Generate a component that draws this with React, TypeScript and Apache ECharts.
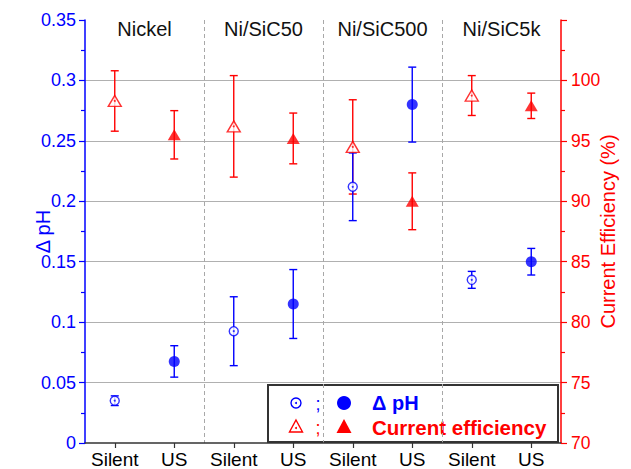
import { useEffect, useRef } from 'react';
import * as echarts from 'echarts';

// Process condition under each coating (x axis), and the coatings themselves (top labels)
const conditions = ['Silent', 'US', 'Silent', 'US', 'Silent', 'US', 'Silent', 'US'];
const coatings = ['Nickel', 'Ni/SiC50', 'Ni/SiC500', 'Ni/SiC5k'];

// Δ pH (left axis), mean and error per coating
const phSilent = [0.035, 0.0925, 0.212, 0.135];
const phSilentErr = [0.004, 0.0285, 0.028, 0.007];
const phUS = [0.0675, 0.115, 0.28, 0.15];
const phUSErr = [0.013, 0.0285, 0.031, 0.011];

// Current efficiency in % (right axis), mean and error per coating
const ceSilent = [98.3, 96.2, 94.5, 98.75];
const ceSilentErr = [2.5, 4.2, 3.9, 1.65];
const ceUS = [95.5, 95.2, 90.0, 97.9];
const ceUSErr = [2.0, 2.1, 2.35, 1.05];

// Axis ranges
const phAxis = { min: 0, max: 0.35, step: 0.05 };
const ceAxis = { min: 70, max: 105, step: 5 };

const BLUE = '#0000ff';
const RED = '#ff0000';
const FONT = '"Liberation Sans", Arial, sans-serif';

// x position of a point: Silent is the first slot of each coating, US the second
const slot = (group: number, offset: number) => group * 2 + offset;

const toPoints = (vals: number[], offset: number) => vals.map((v, i) => [slot(i, offset), v]);

function errorBars(vals: number[], errs: number[], offset: number, yAxisIndex: number, color: string) {
  return {
    type: 'custom',
    xAxisIndex: 0,
    yAxisIndex,
    z: 2,
    silent: true,
    data: vals.map((v, i) => [slot(i, offset), v, errs[i]]),
    encode: { x: 0, y: 1 },
    renderItem: (_params: any, api: any) => {
      const x = api.value(0);
      const v = api.value(1);
      const e = api.value(2);
      const hi = api.coord([x, v + e]);
      const lo = api.coord([x, v - e]);
      const cap = 4;
      const style = { stroke: color, lineWidth: 1.4 };
      return {
        type: 'group',
        children: [
          { type: 'line', shape: { x1: hi[0], y1: hi[1], x2: lo[0], y2: lo[1] }, style },
          { type: 'line', shape: { x1: hi[0] - cap, y1: hi[1], x2: hi[0] + cap, y2: hi[1] }, style },
          { type: 'line', shape: { x1: lo[0] - cap, y1: lo[1], x2: lo[0] + cap, y2: lo[1] }, style },
        ],
      };
    },
  };
}

function markers(vals: number[], offset: number, yAxisIndex: number, color: string, symbol: string, size: any, hollow: boolean) {
  const list: any[] = [
    {
      type: 'scatter',
      xAxisIndex: 0,
      yAxisIndex,
      z: 3,
      silent: true,
      symbol,
      symbolSize: size,
      data: toPoints(vals, offset),
      itemStyle: hollow
        ? { color: '#ffffff', borderColor: color, borderWidth: 1.4 }
        : { color, borderWidth: 0 },
    },
  ];
  if (hollow) {
    // small centre dot inside the open symbols
    list.push({
      type: 'scatter',
      xAxisIndex: 0,
      yAxisIndex,
      z: 4,
      silent: true,
      symbol: 'circle',
      symbolSize: 2,
      data: toPoints(vals, offset),
      itemStyle: { color },
    });
  }
  return list;
}

export default function App() {
  const ref = useRef<HTMLDivElement>(null);

  useEffect(() => {
    if (!ref.current) return;
    const chart = echarts.init(ref.current, undefined, { renderer: 'svg' });

    const option: any = {
      animation: false,
      backgroundColor: '#ffffff',
      grid: { left: 85, right: 70, top: 20, bottom: 26, containLabel: false, outerBoundsMode: 'none' },
      xAxis: [
        {
          type: 'category',
          position: 'bottom',
          data: conditions,
          boundaryGap: true,
          axisLine: { show: true, onZero: false, lineStyle: { color: '#333', width: 1.5 } },
          axisTick: { show: true, alignWithLabel: true, inside: false, length: 5, lineStyle: { color: '#333', width: 1.2 } },
          axisLabel: { interval: 0, hideOverlap: false, color: '#000', fontSize: 19, fontFamily: FONT, margin: 7 },
          splitLine: { show: false },
        },
        {
          type: 'category',
          position: 'top',
          data: coatings,
          boundaryGap: true,
          axisLine: { show: false },
          axisTick: { show: false },
          axisLabel: { interval: 0, inside: true, color: '#111', fontSize: 20, fontFamily: FONT, margin: -1 },
          splitLine: {
            show: true,
            showMinLine: false,
            showMaxLine: false,
            lineStyle: { color: '#a8a8a8', width: 1, type: [4, 3] },
          },
        },
      ],
      yAxis: [
        {
          type: 'value',
          position: 'left',
          min: phAxis.min,
          max: phAxis.max,
          interval: phAxis.step,
          name: 'Δ pH',
          nameLocation: 'middle',
          nameGap: 32,
          nameRotate: 90,
          nameMoveOverlap: false,
          nameTextStyle: { color: BLUE, fontSize: 20, fontFamily: FONT },
          axisLine: { show: true, lineStyle: { color: BLUE, width: 1.5 } },
          axisTick: { show: true, inside: false, length: 6, lineStyle: { color: BLUE, width: 1.2 } },
          minorTick: { show: true, splitNumber: 2, length: 4, lineStyle: { color: BLUE, width: 1.2 } },
          axisLabel: { color: BLUE, fontSize: 18, fontFamily: FONT, margin: 9 },
          splitLine: {
            show: true,
            showMinLine: false,
            showMaxLine: false,
            lineStyle: { color: '#b0b0b0', width: 1.2 },
          },
        },
        {
          type: 'value',
          position: 'right',
          min: ceAxis.min,
          max: ceAxis.max,
          interval: ceAxis.step,
          name: 'Current Efficiency (%)',
          nameLocation: 'middle',
          nameGap: 37,
          nameRotate: 90,
          nameMoveOverlap: false,
          nameTextStyle: { color: RED, fontSize: 20, fontFamily: FONT },
          axisLine: { show: true, lineStyle: { color: RED, width: 1.5 } },
          axisTick: { show: true, inside: false, length: 6, lineStyle: { color: RED, width: 1.2 } },
          minorTick: { show: true, splitNumber: 2, length: 4, lineStyle: { color: RED, width: 1.2 } },
          axisLabel: {
            color: RED,
            fontSize: 17.5,
            fontFamily: FONT,
            margin: 10,
            formatter: (v: number) => (v >= ceAxis.max ? '' : String(v)),
          },
          splitLine: { show: false },
        },
      ],
      series: [
        errorBars(ceSilent, ceSilentErr, 0, 1, RED),
        errorBars(ceUS, ceUSErr, 1, 1, RED),
        errorBars(phSilent, phSilentErr, 0, 0, BLUE),
        errorBars(phUS, phUSErr, 1, 0, BLUE),
        ...markers(ceSilent, 0, 1, RED, 'triangle', [13, 11], true),
        ...markers(ceUS, 1, 1, RED, 'triangle', [13, 11], false),
        ...markers(phSilent, 0, 0, BLUE, 'circle', 9, true),
        ...markers(phUS, 1, 0, BLUE, 'circle', 11, false),
      ],
      graphic: [
        {
          type: 'group',
          x: 268,
          y: 385,
          z: 100,
          children: [
            { type: 'rect', shape: { x: 0, y: 0, width: 290, height: 57 }, style: { fill: '#ffffff', stroke: '#333', lineWidth: 2 } },
            { type: 'circle', shape: { cx: 28, cy: 18, r: 5 }, style: { fill: '#ffffff', stroke: BLUE, lineWidth: 1.4 } },
            { type: 'circle', shape: { cx: 28, cy: 18, r: 1 }, style: { fill: BLUE } },
            { type: 'text', x: 50, y: 19, style: { text: ';', fill: BLUE, font: `18px ${FONT}`, align: 'center', verticalAlign: 'middle' } },
            { type: 'circle', shape: { cx: 76, cy: 18, r: 7 }, style: { fill: BLUE } },
            { type: 'text', x: 104, y: 18, style: { text: 'Δ pH', fill: BLUE, font: `bold 20px ${FONT}`, align: 'left', verticalAlign: 'middle' } },
            { type: 'polygon', shape: { points: [[28, 35], [34.5, 47], [21.5, 47]] }, style: { fill: '#ffffff', stroke: RED, lineWidth: 1.4 } },
            { type: 'circle', shape: { cx: 28, cy: 43, r: 1 }, style: { fill: RED } },
            { type: 'text', x: 50, y: 43, style: { text: ';', fill: RED, font: `18px ${FONT}`, align: 'center', verticalAlign: 'middle' } },
            { type: 'polygon', shape: { points: [[76, 34], [83.5, 48], [68.5, 48]] }, style: { fill: RED } },
            { type: 'text', x: 104, y: 42, style: { text: 'Current efficiency', fill: RED, font: `bold 20.5px ${FONT}`, align: 'left', verticalAlign: 'middle' } },
          ],
        },
      ],
    };

    chart.setOption(option);
    return () => chart.dispose();
  }, []);

  return (
    <div
      ref={ref}
      style={{ position: 'fixed', left: 0, top: 0, width: 631, height: 469, background: '#ffffff' }}
    />
  );
}
